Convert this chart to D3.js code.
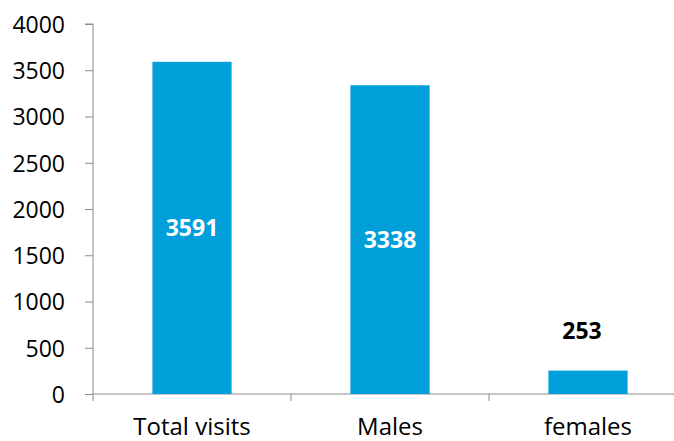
<!DOCTYPE html>
<html><head><meta charset="utf-8">
<script src="https://cdn.jsdelivr.net/npm/d3@7"></script>
<style>body{margin:0;background:#fff}svg{display:block}</style>
</head><body>
<script>
const categories = ["Total visits", "Males", "females"];
const values = [3591, 3338, 253];
const yTicks = [0, 500, 1000, 1500, 2000, 2500, 3000, 3500, 4000];

const W = 674, H = 441;
const font = "'Open Sans', 'Noto Sans', sans-serif";
const svg = d3.select("body").append("svg").attr("width", W).attr("height", H);

const x0 = 93, y0 = 394, yTop = 24;
const band = 198;
const x = d3.scaleBand().domain(categories).range([x0, x0 + band * categories.length]).paddingInner(0.6).paddingOuter(0.3);
const y = d3.scaleLinear().domain([0, 4000]).range([y0, yTop]);

const axisColor = "#8c8c8c";

// y axis
const ya = svg.append("g").attr("transform", `translate(${x0},0)`)
  .call(d3.axisLeft(y).tickValues(yTicks).tickSize(8).tickPadding(20).tickFormat(d3.format("d")));
ya.select(".domain").attr("stroke", axisColor).attr("d", `M-8,${yTop}H0V${y0}`);
ya.selectAll(".tick line").attr("stroke", axisColor);
ya.selectAll(".tick text").attr("font-family", font).attr("font-size", 23).attr("fill", "#000").attr("dy", "0.36em");

// x axis
const xa = svg.append("g").attr("transform", `translate(0,${y0})`);
xa.append("line").attr("x1", x0).attr("x2", x0 + band * 3).attr("stroke", axisColor);
const bounds = d3.range(categories.length + 1).map(i => x0 + band * i);
xa.selectAll("line.tk").data(bounds).join("line").attr("class", "tk")
  .attr("x1", d => d).attr("x2", d => d).attr("y1", 0).attr("y2", 7).attr("stroke", axisColor);
xa.selectAll("text").data(categories).join("text")
  .attr("x", d => x(d) + x.bandwidth() / 2).attr("y", 41)
  .attr("text-anchor", "middle").attr("font-family", font).attr("font-size", 24).attr("fill", "#000")
  .text(d => d);

// bars
svg.selectAll("rect.bar").data(values).join("rect").attr("class", "bar")
  .attr("x", (d, i) => x(categories[i])).attr("width", x.bandwidth())
  .attr("y", d => y(d)).attr("height", d => y0 - y(d))
  .attr("fill", "#009fd9");

// labels
svg.selectAll("text.val").data(values).join("text").attr("class", "val")
  .attr("x", (d, i) => x(categories[i]) + x.bandwidth() / 2)
  .attr("y", d => d > 1000 ? (y(d) + y0) / 2 : y(d) - 32)
  .attr("dy", d => d > 1000 ? "0.36em" : "0")
  .attr("dx", d => d > 1000 ? 0 : -6)
  .attr("text-anchor", "middle").attr("font-family", font).attr("font-weight", "bold").attr("font-size", 23)
  .attr("fill", d => d > 1000 ? "#fff" : "#000")
  .text(d => d);
</script>
</body></html>
